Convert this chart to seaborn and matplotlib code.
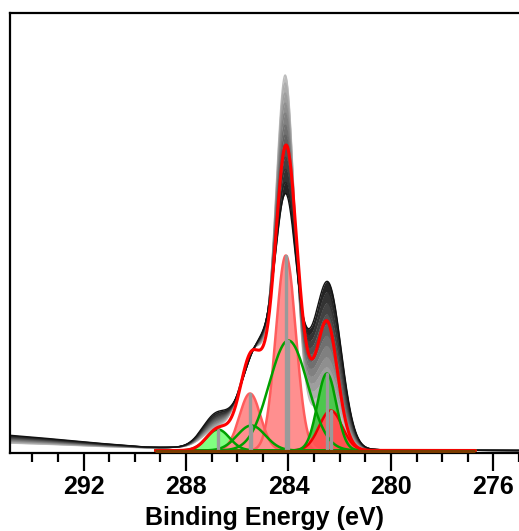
import numpy as np
import pandas as pd
import matplotlib
matplotlib.use("Agg")
import matplotlib.pyplot as plt
from matplotlib.ticker import MultipleLocator, FixedLocator
import seaborn as sns

# ---------------- data ----------------
# axis range (binding energy, eV; reversed)
x_left, x_right = 294.87, 275.0
major_ticks = [292, 288, 284, 280, 276]
x_label = "Binding Energy (eV)"

# fitted components (C 1s) : centre (eV), height (a.u.), gaussian sigma (eV)
red_centers = [285.50, 284.10, 282.35]
red_heights = [57, 195, 40]
red_sigmas = [0.41, 0.39, 0.45]
green_centers = [286.75, 285.45, 284.00, 282.50]
green_heights = [21, 25, 110, 77]
green_sigmas = [0.45, 0.55, 0.75, 0.37]
fit_baseline = 2.5
fit_start, fit_end = 289.2, 276.7

# peaks of the measured spectra: centre, height, sigma
peak_names = ["c_o", "shoulder", "main_sharp", "main_broad", "low"]
peak_centers = [286.80, 285.36, 284.12, 284.00, 282.42]
peak_heights = [22, 78, 195, 110, 115]
peak_sigmas = [0.55, 0.55, 0.37, 0.75, 0.50]

# measured spectra series, light -> dark : scale of each peak
series_gray = [0.74, 0.68, 0.62, 0.56, 0.50, 0.44, 0.38, 0.32, 0.26, 0.20, 0.14, 0.07]
series_cpeak = [0.80, 0.86, 0.92, 0.98, 1.04, 1.10, 1.16, 1.22, 1.28, 1.34, 1.42, 1.50]
series_shoulder = [1.16, 1.14, 1.12, 1.10, 1.08, 1.06, 1.04, 1.02, 1.00, 0.98, 0.96, 0.95]
series_main_sharp = [1.68, 1.60, 1.51, 1.42, 1.33, 1.23, 1.14, 1.05, 0.95, 0.85, 0.75, 0.66]
series_main_broad = [0.35, 0.42, 0.49, 0.56, 0.63, 0.70, 0.77, 0.84, 0.91, 0.98, 1.04, 1.10]
series_low = [0.40, 0.48, 0.56, 0.65, 0.73, 0.82, 0.90, 0.99, 1.07, 1.16, 1.25, 1.33]
series_left_offset = [-4.0, -3.3, -2.5, -1.8, -1.1, -0.4, 0.4, 1.1, 1.8, 2.5, 3.3, 4.0]
# measured background (inelastic tail) of the spectra
bg_energy = [275.0, 280.0, 282.0, 284.0, 286.0, 288.0, 289.5, 291.0, 293.0, 295.0]
bg_height = [2.5, 3.0, 4.0, 5.0, 5.5, 5.5, 5.5, 7.5, 11.0, 14.0]

# ---------------- build ----------------
E = np.linspace(x_right, x_left, 2500)


def gauss(c, h, s):
    return h * np.exp(-((E - c) ** 2) / (2 * s ** 2))


R = [gauss(c, h, s) for c, h, s in zip(red_centers, red_heights, red_sigmas)]
G = [gauss(c, h, s) for c, h, s in zip(green_centers, green_heights, green_sigmas)]
P = [gauss(c, h, s) for c, h, s in zip(peak_centers, peak_heights, peak_sigmas)]

bg = np.interp(E, bg_energy, bg_height)
left_w = np.clip((E - 289.0) / 6.0, 0, 1)

scales = list(zip(series_cpeak, series_shoulder, series_main_sharp,
                  series_main_broad, series_low))
traces = []
for k, sc in enumerate(scales):
    y = bg + series_left_offset[k] * left_w
    for s, p in zip(sc, P):
        y = y + s * p
    traces.append(y)

fit_mask = (E <= fit_start) & (E >= fit_end)
envelope = fit_baseline + sum(R) + sum(G)

# ---------------- plot ----------------
sns.set_style("white")
plt.rcParams["font.family"] = ["Liberation Sans", "DejaVu Sans"]
plt.rcParams["font.weight"] = "bold"
plt.rcParams["text.color"] = "black"
plt.rcParams["axes.labelcolor"] = "black"
plt.rcParams["xtick.color"] = "black"

fig = plt.figure(figsize=(5.19, 5.31), dpi=100)
ax = fig.add_axes([10 / 519, 78 / 531, 509 / 519, 440 / 531])

# gray band of spectra
for k in range(len(traces) - 1):
    ax.fill_between(E, traces[k], traces[k + 1], color=str(series_gray[k]), lw=0, zorder=1)
for k, y in enumerate(traces):
    sns.lineplot(x=E, y=y, ax=ax, color=str(series_gray[k]), lw=1.0, zorder=1.2,
                 sort=False, estimator=None)

Ef = E[fit_mask]
# green component fills
ax.fill_between(Ef, fit_baseline, fit_baseline + G[0][fit_mask], color=(0.5, 1.0, 0.5), lw=0, zorder=2)
ax.fill_between(Ef, fit_baseline, fit_baseline + G[3][fit_mask], color=(0.30, 0.78, 0.30), lw=0, zorder=2)
# red component fills
ax.fill_between(Ef, fit_baseline, fit_baseline + R[0][fit_mask], color=(1.0, 0.56, 0.56), lw=0, zorder=2.1)
ax.fill_between(Ef, fit_baseline, fit_baseline + R[1][fit_mask], color=(1.0, 0.56, 0.56), lw=0, zorder=2.1)
ax.fill_between(Ef, fit_baseline, fit_baseline + R[2][fit_mask], color=(1.0, 0.32, 0.32), lw=0, zorder=2.2)

# component outlines
red_line_colors = ["#ff5c5c", "#ff5c5c", "#ee0000"]
for comp, col in zip(R, red_line_colors):
    sns.lineplot(x=Ef, y=fit_baseline + comp[fit_mask], ax=ax, color=col, lw=1.8,
                 zorder=3, sort=False, estimator=None)
for comp in G:
    sns.lineplot(x=Ef, y=fit_baseline + comp[fit_mask], ax=ax, color="#00a000", lw=1.8,
                 zorder=3.1, sort=False, estimator=None)

# centre markers
for c, h in list(zip(red_centers, red_heights)) + list(zip(green_centers, green_heights)):
    ax.plot([c, c], [fit_baseline, fit_baseline + h], color="#9a9a9a", lw=2.4, zorder=3.5)

# envelope and fit background
sns.lineplot(x=Ef, y=envelope[fit_mask], ax=ax, color="#ff0000", lw=2.2, zorder=4.5,
             sort=False, estimator=None)
ax.plot([fit_start, fit_end], [2.0, 2.0], color="#7a3c00", lw=2.3, zorder=4.6,
        solid_capstyle="butt")

ax.set_xlim(x_left, x_right)
ax.set_ylim(0, 440)
ax.set_yticks([])
ax.xaxis.set_major_locator(FixedLocator(major_ticks))
ax.xaxis.set_minor_locator(MultipleLocator(1))
ax.tick_params(axis="x", which="major", direction="out", length=13, width=1.6,
               labelsize=18, pad=3, bottom=True, colors="black")
ax.tick_params(axis="x", which="minor", direction="out", length=6.5, width=1.6, bottom=True)
for lab in ax.get_xticklabels():
    lab.set_fontweight("bold")
ax.set_xlabel(x_label, fontsize=18, fontweight="bold", labelpad=5, color="black")
ax.set_ylabel("")

for side in ["left", "top", "bottom"]:
    ax.spines[side].set_visible(True)
    ax.spines[side].set_color("black")
    ax.spines[side].set_linewidth(1.6)
ax.spines["right"].set_visible(False)

fig.savefig("out.png", dpi=100, facecolor="white")
